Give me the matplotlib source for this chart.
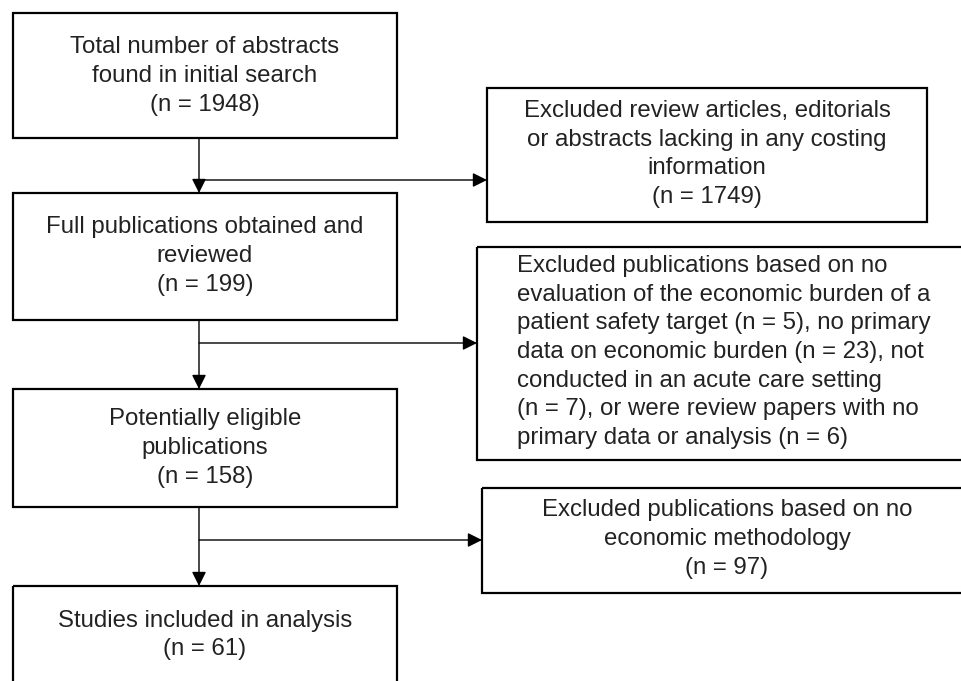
import matplotlib
matplotlib.use("Agg")
import matplotlib.pyplot as plt
from matplotlib.patches import Rectangle

# --- content ---
main_texts = [
    "Total number of abstracts\nfound in initial search\n(n = 1948)",
    "Full publications obtained and\nreviewed\n(n = 199)",
    "Potentially eligible\npublications\n(n = 158)",
    "Studies included in analysis\n(n = 61)",
]
excl_texts = [
    "Excluded review articles, editorials\nor abstracts lacking in any costing\ninformation\n(n = 1749)",
    "Excluded publications based on no\nevaluation of the economic burden of a\npatient safety target (n = 5), no primary\n"
    "data on economic burden (n = 23), not\nconducted in an acute care setting\n(n = 7), or were review papers with no\n"
    "primary data or analysis (n = 6)",
    "Excluded publications based on no\neconomic methodology\n(n = 97)",
]

# --- layout (pixels) ---
main_boxes = [(13, 13, 397, 138), (13, 193, 397, 320), (13, 389, 397, 507), (13, 586, 397, 690)]
main_text_y = [76, 256, 448, 635]
excl_boxes = [(487, 88, 927, 222), (477, 247, 975, 460), (482, 488, 975, 593)]
excl_text_pos = [(707, 154, 'center'), (517, 352, 'left'), (727, 539, 'center')]
branch_y = [180, 343, 540]
spine_x = 199

fig = plt.figure(figsize=(9.61, 6.81), dpi=100)
ax = fig.add_axes([0, 0, 1, 1])
ax.set_xlim(0, 961)
ax.set_ylim(681, 0)
ax.axis('off')

fs = 17.3
tc = '#222222'
font = 'Liberation Sans'
ls = 1.39

for (x0, y0, x1, y1), t, ty in zip(main_boxes, main_texts, main_text_y):
    ax.add_patch(Rectangle((x0, y0), x1 - x0, y1 - y0, fill=False, ec='black', lw=1.6))
    ax.text((x0 + x1) / 2, ty, t, ha='center', va='center', fontsize=fs, color=tc,
            family=font, multialignment='center', linespacing=ls)

for (x0, y0, x1, y1), t, (tx, ty, al) in zip(excl_boxes, excl_texts, excl_text_pos):
    ax.add_patch(Rectangle((x0, y0), x1 - x0, y1 - y0, fill=False, ec='black', lw=1.6))
    ax.text(tx, ty, t, ha=al, va='center', fontsize=fs, color=tc,
            family=font, multialignment=al, linespacing=ls)

ap = dict(arrowstyle='-|>,head_length=0.86,head_width=0.43', mutation_scale=10,
          color='black', lw=1.0, shrinkA=0, shrinkB=0)

for i in range(3):
    top = main_boxes[i][3]
    bottom = main_boxes[i + 1][1]
    ax.annotate('', xy=(spine_x, bottom), xytext=(spine_x, top), arrowprops=ap)
    ax.annotate('', xy=(excl_boxes[i][0], branch_y[i]), xytext=(spine_x, branch_y[i]), arrowprops=ap)

fig.savefig('out.png', dpi=100)
